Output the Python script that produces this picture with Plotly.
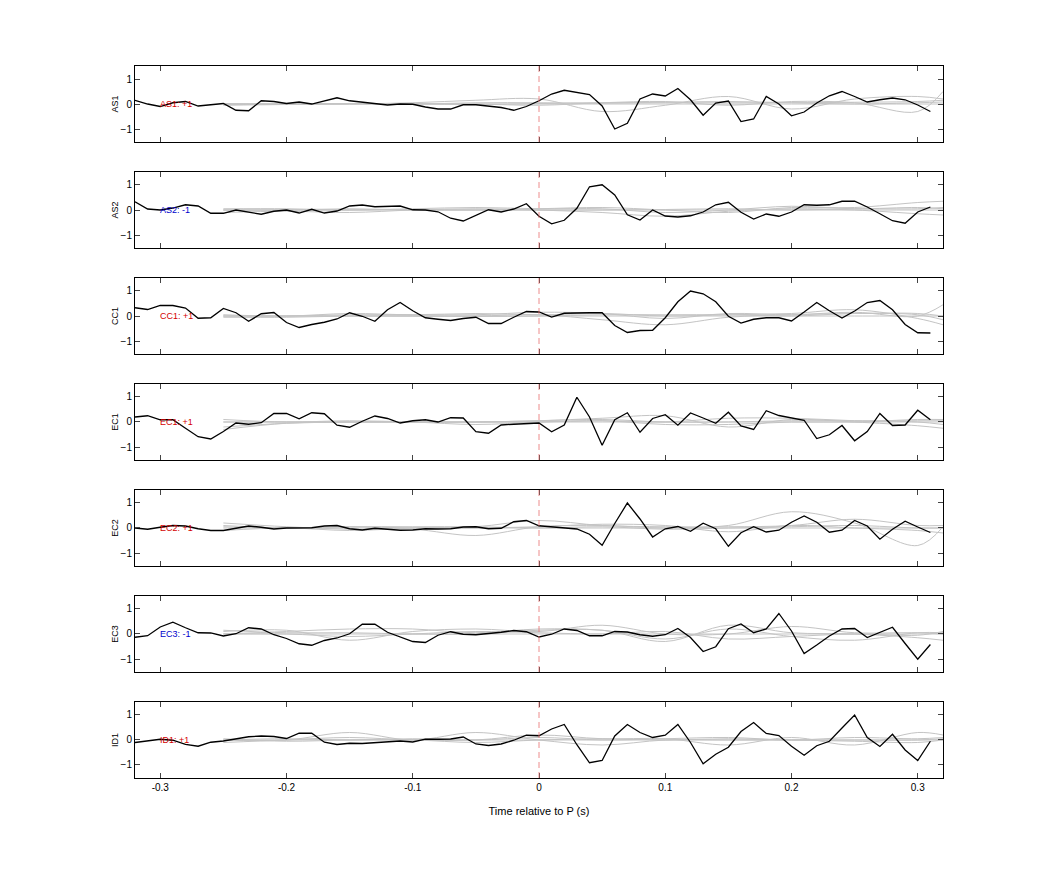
import plotly.graph_objects as go
from plotly.subplots import make_subplots

channels = ["AS1", "AS2", "CC1", "EC1", "EC2", "EC3", "ID1"]
labels = ["AS1: +1", "AS2: -1", "CC1: +1", "EC1: +1", "EC2: +1", "EC3: -1", "ID1: +1"]
label_colors = ["#d40000", "#0000cc", "#d40000", "#d40000", "#d40000", "#0000cc", "#d40000"]

t = [round(-0.32 + 0.01 * i, 2) for i in range(64)]

AS1 = [0.15,0.0,-0.1,0.05,0.1,-0.08,-0.03,0.02,-0.25,-0.27,0.13,0.1,0.02,0.08,0.0,0.12,0.25,0.13,0.07,0.02,
       -0.04,0.0,-0.01,-0.12,-0.2,-0.2,-0.03,-0.03,-0.08,-0.14,-0.25,-0.1,0.13,0.4,0.55,0.47,0.38,-0.08,-1.0,-0.77,
       0.2,0.4,0.32,0.62,0.17,-0.45,0.04,0.12,-0.7,-0.6,0.3,0.0,-0.47,-0.32,0.04,0.33,0.5,0.3,0.08,0.17,
       0.24,0.17,-0.04,-0.3]
AS2 = [0.33,0.04,0.0,0.08,0.21,0.16,-0.13,-0.13,0.0,-0.09,-0.17,-0.05,0.0,-0.12,0.03,-0.12,-0.04,0.16,0.2,0.13,
       0.13,0.16,0.01,0.0,-0.07,-0.33,-0.44,-0.21,0.01,-0.08,0.04,0.25,-0.25,-0.55,-0.41,0.07,0.93,1.01,0.6,-0.19,
       -0.4,0.0,-0.24,-0.28,-0.23,-0.08,0.21,0.31,-0.09,-0.36,-0.16,-0.25,-0.08,0.21,0.19,0.21,0.35,0.35,0.12,-0.15,
       -0.43,-0.53,-0.08,0.12]
CC1 = [0.33,0.26,0.42,0.42,0.32,-0.09,-0.07,0.3,0.13,-0.21,0.09,0.14,-0.26,-0.46,-0.34,-0.25,-0.12,0.13,-0.01,-0.21,
       0.25,0.54,0.21,-0.07,-0.13,-0.18,-0.1,-0.05,-0.3,-0.3,-0.05,0.18,0.16,-0.04,0.11,0.13,0.13,0.13,-0.38,-0.66,
       -0.58,-0.57,-0.07,0.57,1.0,0.89,0.57,-0.01,-0.28,-0.13,-0.07,-0.07,-0.2,0.16,0.54,0.21,-0.08,0.2,0.54,0.62,
       0.25,-0.34,-0.67,-0.68]
EC1 = [0.2,0.25,0.09,0.09,-0.25,-0.59,-0.68,-0.38,-0.04,-0.09,-0.03,0.34,0.34,0.13,0.37,0.33,-0.13,-0.21,0.03,0.24,
       0.14,-0.04,0.05,0.09,0.0,0.17,0.16,-0.39,-0.45,-0.12,-0.09,-0.07,-0.04,-0.39,-0.12,0.99,0.2,-0.93,0.09,0.37,
       -0.41,0.14,0.29,-0.13,0.36,0.16,-0.05,0.39,-0.16,-0.3,0.45,0.26,0.18,0.07,-0.66,-0.51,-0.14,-0.75,-0.38,0.34,
       -0.14,-0.12,0.47,0.09]
EC2 = [0.0,-0.05,0.03,0.1,0.08,-0.03,-0.1,-0.1,-0.01,0.08,0.03,-0.04,0.0,0.01,0.01,0.08,0.1,-0.03,-0.08,-0.01,
       -0.04,-0.09,-0.08,-0.03,-0.04,-0.03,0.04,0.05,-0.03,-0.01,0.25,0.3,0.09,0.04,0.0,-0.04,-0.25,-0.69,0.18,1.0,
       0.36,-0.36,-0.03,0.06,-0.13,0.19,-0.03,-0.73,-0.19,0.05,-0.16,-0.09,0.23,0.48,0.23,-0.17,-0.09,0.3,0.08,-0.45,
       -0.05,0.27,0.04,-0.18]
EC3 = [-0.13,-0.07,0.28,0.47,0.25,0.05,0.04,-0.08,0.01,0.25,0.2,-0.03,-0.18,-0.39,-0.45,-0.26,-0.16,0.01,0.39,0.39,
       0.07,-0.1,-0.3,-0.34,-0.05,0.09,-0.01,-0.03,0.01,0.07,0.14,0.09,-0.12,-0.01,0.2,0.14,-0.07,-0.07,0.1,0.08,
       -0.03,-0.09,-0.03,0.22,-0.14,-0.7,-0.51,0.21,0.4,0.05,0.2,0.82,0.12,-0.78,-0.44,-0.08,0.2,0.22,-0.14,0.05,
       0.27,-0.38,-1.01,-0.42]
ID1 = [-0.1,-0.03,0.03,-0.01,-0.18,-0.25,-0.09,-0.04,0.04,0.13,0.16,0.14,0.06,0.27,0.27,-0.09,-0.18,-0.13,-0.14,-0.1,
       -0.06,-0.04,-0.08,0.03,0.03,0.04,0.12,-0.16,-0.22,-0.16,-0.01,0.19,0.17,0.44,0.62,-0.19,-0.91,-0.82,0.16,0.62,
       0.3,0.1,0.19,0.62,-0.1,-0.95,-0.57,-0.29,0.34,0.7,0.26,0.18,-0.25,-0.61,-0.23,-0.05,0.48,1.0,0.1,-0.26,
       0.23,-0.4,-0.82,-0.05]
black_series = [AS1, AS2, CC1, EC1, EC2, EC3, ID1]

# gray reference curves (control points, drawn as splines)
tg = [-0.25,-0.2,-0.15,-0.1,-0.05,0.0,0.05,0.1,0.15,0.2,0.25,0.3,0.32]
gray_AS1 = [[0.0,0.0,0.02,0.0,0.05,0.05,0.03,0.05,0.05,0.05,0.07,0.1,0.15],
            [-0.05,-0.02,0.0,0.05,0.15,0.2,-0.3,-0.05,0.3,-0.2,0.2,0.3,0.2],
            [0.0,0.0,0.0,0.0,0.0,0.0,0.0,0.0,0.0,0.0,0.0,0.0,0.0],
            [0.02,0.0,0.0,0.02,0.0,-0.05,0.05,0.1,-0.05,0.1,0.05,-0.3,0.5],
            [-0.03,0.0,0.02,0.0,-0.02,0.02,0.05,0.07,0.1,0.05,0.0,0.05,0.08]]
gray_AS2 = [[0.0,0.0,0.05,0.0,0.0,0.05,0.1,0.0,-0.1,0.1,0.1,0.3,0.35],
            [-0.1,-0.05,-0.1,0.0,0.05,0.0,-0.1,-0.25,-0.05,0.05,0.0,-0.15,-0.2],
            [0.0,0.0,0.0,0.0,0.0,0.0,0.0,0.0,0.0,0.0,0.0,0.0,0.0],
            [0.05,0.05,0.0,0.05,0.1,0.05,0.05,-0.1,0.0,0.15,0.05,0.1,0.05],
            [0.0,0.0,0.0,0.02,0.0,0.0,0.0,0.02,0.05,0.0,0.05,0.05,0.1]]
gray_CC1 = [[0.0,0.0,0.05,0.05,0.05,0.15,0.1,-0.1,0.1,0.05,0.15,0.0,0.45],
            [0.0,0.0,0.0,0.0,0.0,0.05,-0.15,-0.35,-0.05,0.05,0.1,0.1,0.0],
            [0.0,0.0,0.0,0.0,0.0,0.0,0.0,0.0,0.0,0.0,0.0,0.0,0.0],
            [0.05,0.0,0.1,0.05,0.1,0.05,0.1,0.0,0.05,0.1,0.25,-0.1,-0.35],
            [-0.05,-0.05,0.0,0.0,-0.02,0.0,0.05,0.05,0.05,0.0,0.1,0.05,-0.15]]
gray_EC1 = [[0.0,0.0,0.0,0.0,0.0,0.05,0.1,0.0,0.0,0.05,0.05,0.05,0.05],
            [-0.2,-0.05,0.0,0.0,0.0,0.05,0.15,0.25,-0.2,0.1,0.0,-0.15,-0.25],
            [0.0,0.0,0.0,0.0,0.0,0.0,0.0,0.0,0.0,0.0,0.0,0.0,0.0],
            [-0.3,-0.05,0.0,0.0,0.0,0.0,0.05,0.0,0.15,0.15,0.05,0.0,-0.1],
            [0.1,0.0,0.05,0.0,-0.1,0.0,0.05,-0.1,-0.1,0.0,0.0,0.1,0.1]]
gray_EC2 = [[0.2,0.05,-0.05,-0.05,-0.3,0.05,0.1,0.0,0.1,0.65,0.2,-0.7,0.05],
            [0.0,0.0,0.0,0.0,0.0,0.0,0.0,0.0,0.0,0.0,0.0,0.0,0.0],
            [-0.1,0.0,-0.1,0.0,0.05,0.3,0.1,0.05,0.05,0.1,0.35,0.1,0.1],
            [0.05,0.0,0.05,0.0,0.0,0.05,0.15,0.1,-0.15,0.1,0.0,-0.1,-0.2],
            [0.1,0.0,0.05,0.05,0.05,0.0,0.05,-0.05,0.0,0.05,0.1,0.0,0.0]]
gray_EC3 = [[0.15,0.05,0.05,0.0,0.0,0.15,0.15,-0.3,0.35,0.05,0.0,-0.15,-0.25],
            [0.0,0.0,0.0,0.0,0.0,0.0,0.0,0.0,0.0,0.0,0.0,0.0,0.0],
            [0.1,0.15,-0.25,0.1,0.2,0.1,0.35,0.0,0.0,0.3,0.05,0.05,0.0],
            [0.0,0.1,0.2,0.2,0.05,0.2,0.15,-0.2,0.2,-0.1,-0.25,0.05,0.05],
            [0.0,0.0,-0.1,0.0,0.1,0.05,0.0,0.1,-0.2,-0.1,0.0,-0.05,0.1]]
gray_ID1 = [[0.0,0.0,0.3,0.0,0.3,0.0,-0.2,0.0,0.0,0.0,0.0,0.0,0.05],
            [0.0,0.0,0.0,0.0,0.0,0.0,0.0,0.0,0.0,0.0,0.0,0.0,0.0],
            [-0.1,0.0,0.1,0.0,0.0,0.2,0.05,0.05,-0.2,0.1,-0.2,0.3,0.2],
            [0.0,0.05,0.0,0.05,0.0,0.1,0.0,0.05,0.1,0.0,0.1,0.05,0.1],
            [0.05,-0.05,0.0,0.0,-0.1,0.0,0.05,0.0,0.05,0.0,-0.05,-0.1,0.0]]
gray_series = [gray_AS1, gray_AS2, gray_CC1, gray_EC1, gray_EC2, gray_EC3, gray_ID1]

x_ticks = [-0.3, -0.2, -0.1, 0, 0.1, 0.2, 0.3]
x_ticktext = ["-0.3", "-0.2", "-0.1", "0", "0.1", "0.2", "0.3"]
y_ticks = [-1, 0, 1]

fig = make_subplots(rows=7, cols=1, vertical_spacing=0.0421)
for i in range(7):
    r = i + 1
    for g in gray_series[i]:
        fig.add_trace(go.Scatter(x=tg, y=g, mode="lines", line=dict(color="#c4c4c4", width=1, shape="spline"),
                                 showlegend=False, hoverinfo="skip"), row=r, col=1)
    fig.add_trace(go.Scatter(x=t, y=black_series[i], mode="lines", line=dict(color="black", width=1.3),
                             showlegend=False), row=r, col=1)
    xref = "x" if r == 1 else f"x{r}"
    yref = "y" if r == 1 else f"y{r}"
    fig.add_shape(type="line", x0=0, x1=0, y0=0, y1=1, xref=xref, yref=f"{yref} domain",
                  line=dict(color="#e87070", width=0.8, dash="6px,4px"))
    fig.add_annotation(x=-0.302, y=0, xref=xref, yref=yref, text=labels[i], showarrow=False,
                       xanchor="left", yanchor="middle", font=dict(size=9, color=label_colors[i]))
    fig.update_xaxes(range=[-0.32, 0.32], tickvals=x_ticks, ticktext=x_ticktext,
                     showticklabels=(r == 7), ticks="inside", ticklen=5, mirror="ticks",
                     showline=True, linecolor="black", linewidth=1, showgrid=False, zeroline=False,
                     row=r, col=1)
    fig.update_yaxes(range=[-1.52, 1.52], tickvals=y_ticks, ticks="inside", ticklen=5, mirror="ticks",
                     showline=True, linecolor="black", linewidth=1, showgrid=False, zeroline=False,
                     title=dict(text=channels[i], font=dict(size=9), standoff=0), row=r, col=1)

fig.update_xaxes(title=dict(text="Time relative to P (s)", font=dict(size=11)), row=7, col=1)
fig.update_layout(width=1042, height=875, margin=dict(l=127, r=107, t=58, b=105),
                  plot_bgcolor="white", paper_bgcolor="white",
                  font=dict(family="Liberation Sans, Arial, sans-serif", size=10, color="black"))
fig.write_html("out.html")
